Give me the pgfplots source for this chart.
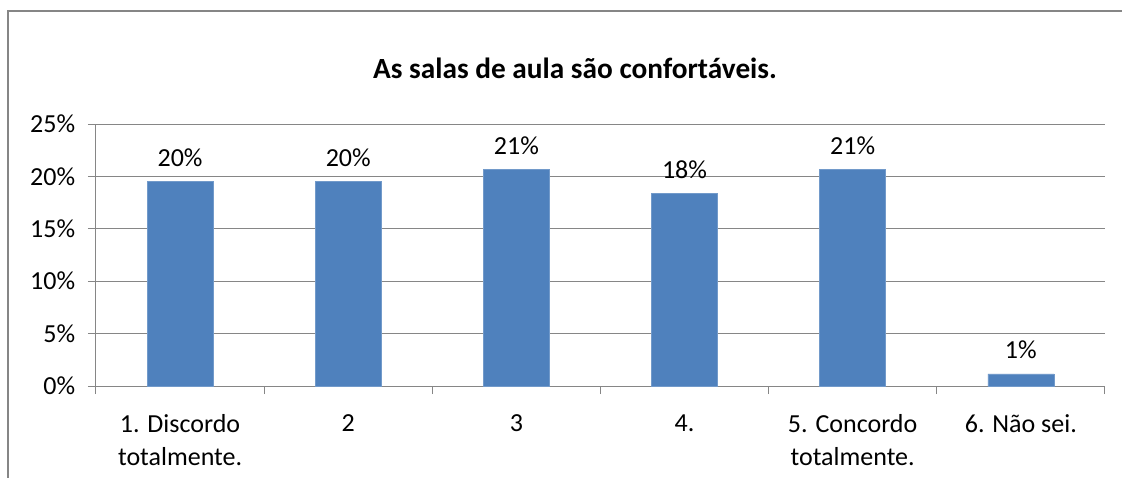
\documentclass[border=0pt]{standalone}
\usepackage{fontspec}
\setmainfont{Carlito}
\usepackage{pgfplots}
\pgfplotsset{compat=1.18}
\definecolor{barblue}{HTML}{4F81BD}
\definecolor{gridgray}{HTML}{868686}
\begin{document}
\fontsize{26}{32}\selectfont
\begin{tikzpicture}[x=1pt,y=1pt]
\useasboundingbox (-96,-91) rectangle (1026,386);
\begin{scope}
\clip (-96,-91) rectangle (1026,386);
\draw[gridgray, line width=2pt] (-88,-95) -- (-88,375) -- (1030,375);
\end{scope}
\node[anchor=base, font=\fontsize{29.3}{35}\selectfont\bfseries] at (479,307) {As salas de aula são confortáveis.};
\begin{axis}[
  at={(0,0)}, anchor=south west,
  width=1009pt, height=262pt, scale only axis,
  ymin=0, ymax=25, xmin=-0.5, xmax=5.5,
  axis lines*=left,
  axis line style={gridgray, line width=1pt},
  ymajorgrids, grid style={gridgray, line width=1pt},
  ytick={0,5,10,15,20,25},
  yticklabels={0\%,5\%,10\%,15\%,20\%,25\%},
  xtick={0,1,2,3,4,5},
  xticklabels={1. Discordo\\totalmente., 2, 3, 4., 5. Concordo\\totalmente., 6. Não sei.},
  xticklabel style={align=center, anchor=north, yshift=-12pt},
  x tick label style={font=\fontsize{26}{33}\selectfont},
  y tick label style={font=\fontsize{26}{32}\selectfont, xshift=-4pt},
  major x tick style={draw=none},
  minor xtick={-0.5,0.5,...,5.5},
  minor x tick style={gridgray, line width=1pt},
  major y tick style={gridgray, line width=1pt},
  tick align=outside,
  major tick length=8pt, minor tick length=8pt,
  ybar, bar width=66pt,
  nodes near coords={\pgfmathprintnumber[fixed,precision=0,assume math mode=true]{\pgfplotspointmeta}\%},
  every node near coord/.append style={font=\fontsize{26}{32}\selectfont, anchor=base, yshift=15pt, text=black},
  clip=false,
]
\addplot[fill=barblue, draw=barblue!80!white, line width=0.5pt] coordinates {
(0,19.54) (1,19.54) (2,20.69) (3,18.39) (4,20.69) (5,1.15)
};
\end{axis}
\end{tikzpicture}
\end{document}
